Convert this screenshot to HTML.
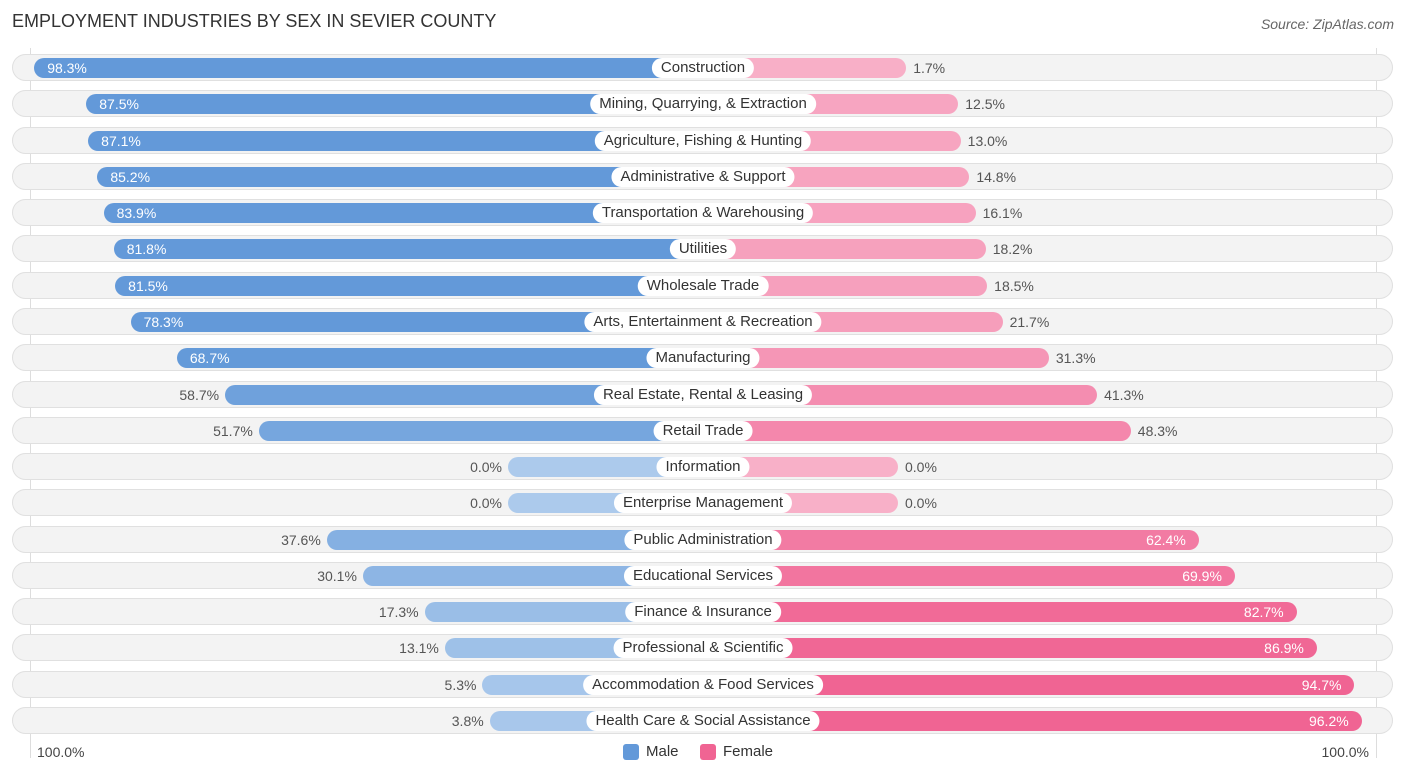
<!DOCTYPE html>
<html><head><meta charset="utf-8"><style>
body{margin:0;width:1406px;height:776px;background:#fff;font-family:"Liberation Sans",sans-serif;position:relative;overflow:hidden}
.t{position:absolute;left:12px;top:11px;font-size:18px;color:#333}
.src{position:absolute;right:12px;top:16px;font-size:14px;color:#666;font-style:italic}
.vl{position:absolute;top:48px;height:710px;width:1px;background:#ddd}
.row{position:absolute;left:12px;width:1381px;height:27px;border-radius:14px;background:#f3f3f3;box-shadow:inset 0 0 0 1px #e0e0e0}
.bar{position:absolute;height:20px;border-radius:10px}
.lab{position:absolute;height:20px;line-height:20px;padding:0 9px;background:#fff;border-radius:10px;font-size:15px;color:#333;transform:translateX(-50%);white-space:nowrap}
.v{position:absolute;font-size:14px;line-height:20px;height:20px}
.ax{position:absolute;top:744px;font-size:14px;color:#444}
.lg{position:absolute;top:743px;font-size:15px;color:#333;display:flex;align-items:center}
.sw{width:16px;height:16px;border-radius:3px;margin-right:7px;display:inline-block}
</style></head><body>
<div class="t">EMPLOYMENT INDUSTRIES BY SEX IN SEVIER COUNTY</div>
<div class="src">Source: ZipAtlas.com</div>
<div class="vl" style="left:30px"></div>
<div class="vl" style="left:1376px"></div>
<div id="chart"></div>
<div class="ax" style="left:37px">100.0%</div>
<div class="ax" style="right:37px">100.0%</div>
<div class="lg" style="left:623px"><span class="sw" style="background:#6399d9"></span>Male</div>
<div class="lg" style="left:700px"><span class="sw" style="background:#f06493"></span>Female</div>
<script>
const categories=["Construction","Mining, Quarrying, & Extraction","Agriculture, Fishing & Hunting","Administrative & Support","Transportation & Warehousing","Utilities","Wholesale Trade","Arts, Entertainment & Recreation","Manufacturing","Real Estate, Rental & Leasing","Retail Trade","Information","Enterprise Management","Public Administration","Educational Services","Finance & Insurance","Professional & Scientific","Accommodation & Food Services","Health Care & Social Assistance"];
const male=[98.3,87.5,87.1,85.2,83.9,81.8,81.5,78.3,68.7,58.7,51.7,0.0,0.0,37.6,30.1,17.3,13.1,5.3,3.8];
const female=[1.7,12.5,13.0,14.8,16.1,18.2,18.5,21.7,31.3,41.3,48.3,0.0,0.0,62.4,69.9,82.7,86.9,94.7,96.2];
const C=703,BASE=195,K=4.82,Y0=58,DY=36.28;
function len(v){return BASE+K*v;}
function mix(a,b,t){return 'rgb('+a.map((x,i)=>Math.round(x+(b[i]-x)*t)).join(',')+')';}
const ch=document.getElementById('chart');
categories.forEach((c,i)=>{
  const y=Y0+i*DY;
  const row=document.createElement('div');row.className='row';row.style.top=(y-4)+'px';
  
  
  ch.appendChild(row);
  const m=document.createElement('div');m.className='bar';
  const ml=len(male[i]);m.style.left=(C-ml)+'px';m.style.width=ml+'px';m.style.top=y+'px';
  m.style.background=mix([172,202,236],[99,153,217],Math.min(1,male[i]/70));
  
  
  ch.appendChild(m);
  const f=document.createElement('div');f.className='bar';
  const fl=len(female[i]);f.style.left=C+'px';f.style.width=fl+'px';f.style.top=y+'px';
  f.style.background=mix([248,176,200],[240,100,147],Math.min(1,female[i]/90));
  
  
  ch.appendChild(f);
  const mv=document.createElement('div');mv.className='v';mv.textContent=male[i].toFixed(1)+'%';mv.style.top=y+'px';
  if(male[i]>60){mv.style.left=(C-ml+13)+'px';mv.style.color='#fff';}else{mv.style.right=(1406-(C-ml)+6)+'px';mv.style.color='#555';}
  
  
  ch.appendChild(mv);
  const fv=document.createElement('div');fv.className='v';fv.textContent=female[i].toFixed(1)+'%';fv.style.top=y+'px';
  if(female[i]>60){fv.style.right=(1406-(C+fl)+13)+'px';fv.style.color='#fff';}else{fv.style.left=(C+fl+7)+'px';fv.style.color='#555';}
  
  
  ch.appendChild(fv);
  const l=document.createElement('div');l.className='lab';l.textContent=c;l.style.left=C+'px';l.style.top=y+'px';
  
  
  ch.appendChild(l);
});
</script>
</body></html>
